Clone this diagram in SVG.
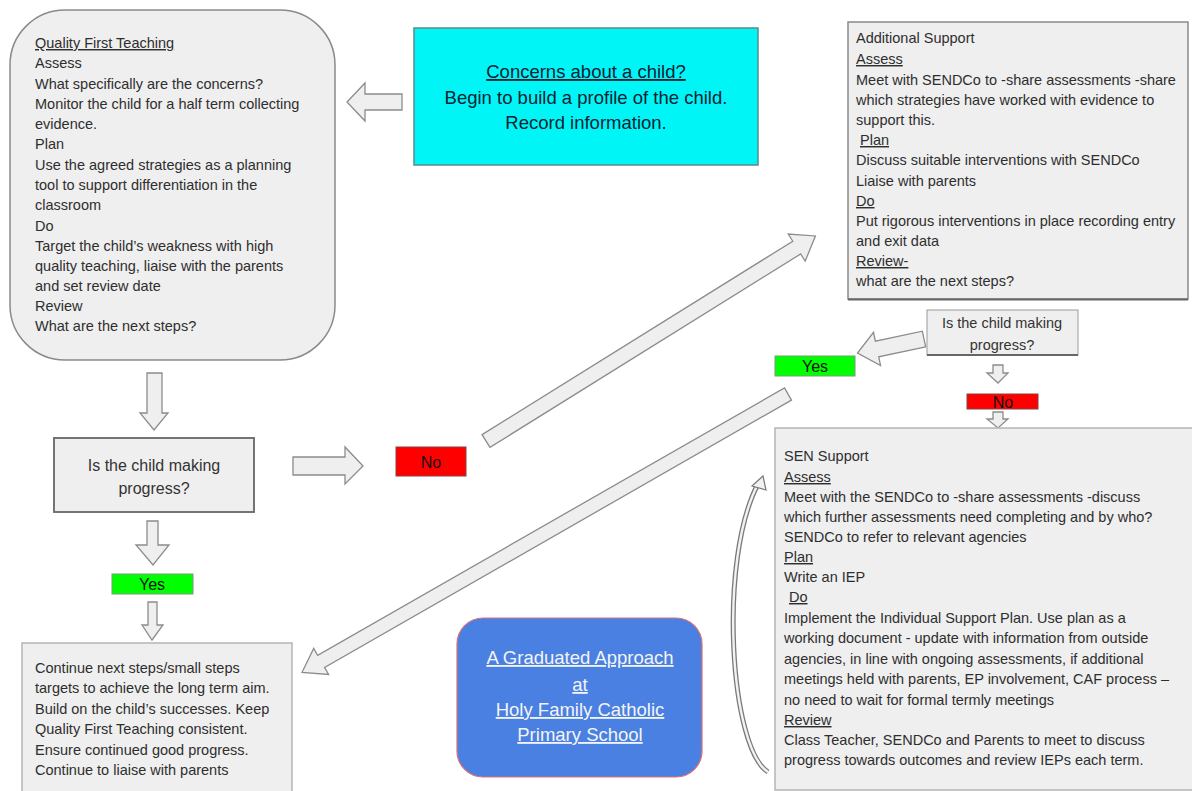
<svg xmlns="http://www.w3.org/2000/svg" width="1192" height="791" viewBox="0 0 1192 791">
<style>
  .box { fill: #efefef; stroke: #8a8a8a; stroke-width: 1.5; }
  .body { font-family: "Liberation Sans", Arial, sans-serif; font-size: 14.5px; fill: #2e2e2e; }
  .ul { text-decoration: underline; }
  .arrow { fill: #efefef; stroke: #8c8c8c; stroke-width: 1.3; stroke-linejoin: miter; }
  .yes { fill: #00ff00; stroke: #7a9a7a; stroke-width: 1; }
  .no { fill: #ff0000; stroke: #8a4040; stroke-width: 1; }
  .lbl { font-family: "Liberation Sans", Arial, sans-serif; font-size: 16px; fill: #111; text-anchor: middle; }
  .q { font-family: "Liberation Sans", Arial, sans-serif; font-size: 16px; fill: #333; text-anchor: middle; }
  .qs { font-size: 14.5px; }
  .big { font-family: "Liberation Sans", Arial, sans-serif; font-size: 18.5px; text-anchor: middle; }
  .cy { fill: #0d2233; }
  .wt { fill: #f4f4f4; }
</style>

<g id="connectors">
  <!-- cyan box to QFT -->
  <polygon class="arrow" points="402,94 365,94 365,83 347,102 365,121 365,110 402,110"/>
  <!-- QFT down to decision -->
  <polygon class="arrow" points="147,373 162,373 162,413 168,413 154,430 140,413 147,413"/>
  <!-- decision right to No -->
  <polygon class="arrow" points="293,457 345,457 345,447 363,466 345,484 345,475 293,475"/>
  <!-- decision down to Yes -->
  <polygon class="arrow" points="147,521 158,521 158,545 169,545 153,565 136,545 147,545"/>
  <!-- Yes down to continue box -->
  <polygon class="arrow" points="148,602 157,602 157,625 163,625 152,640 142,625 148,625"/>
  <!-- No (left) to Additional Support -->
  <polygon class="arrow" transform="translate(486,441) rotate(-31.9)" points="0,-7.5 366,-7.5 366,-16 388,0 366,16 366,7.5 0,7.5"/>
  <!-- Yes (right) to continue box -->
  <polygon class="arrow" transform="translate(788,394) rotate(150.2)" points="0,-7 538,-7 538,-15 560,0 538,15 538,7 0,7"/>
  <!-- right decision to Yes -->
  <polygon class="arrow" transform="translate(924,339) rotate(168)" points="0,-8 48,-8 48,-17 68,0 48,17 48,8 0,8"/>
  <!-- right decision down to No -->
  <polygon class="arrow" points="993,365 1003,365 1003,373 1008,373 998,383 987,373 993,373"/>
  <!-- No down to SEN Support -->
  <polygon class="arrow" points="993,412 1003,412 1003,419 1008,419 998,428 987,419 993,419"/>
  <!-- curved review loop -->
  <path d="M768,772 C730,748 718,560 758,484" fill="none" stroke="#7a7a7a" stroke-width="5"/>
  <path d="M768,772 C730,748 718,560 758,484" fill="none" stroke="#f2f2f2" stroke-width="2.4"/>
  <polygon points="752,486 763,476 766,490" fill="#f2f2f2" stroke="#7a7a7a" stroke-width="1.2"/>
</g>

<g id="qft">
  <rect class="box" x="10" y="10" width="325" height="350" rx="55" ry="55"/>
  <text class="body"><tspan x="35" y="48" class="ul">Quality First Teaching</tspan><tspan x="35" y="68">Assess</tspan><tspan x="35" y="89">What specifically are the concerns?</tspan><tspan x="35" y="109">Monitor the child for a half term collecting</tspan><tspan x="35" y="129">evidence.</tspan><tspan x="35" y="149">Plan</tspan><tspan x="35" y="170">Use the agreed strategies as a planning</tspan><tspan x="35" y="190">tool to support differentiation  in the</tspan><tspan x="35" y="210">classroom</tspan><tspan x="35" y="231">Do</tspan><tspan x="35" y="251">Target the child’s weakness with high</tspan><tspan x="35" y="271">quality teaching, liaise with the parents</tspan><tspan x="35" y="291">and set review date</tspan><tspan x="35" y="311">Review</tspan><tspan x="35" y="331">What are the next steps?</tspan></text>
</g>

<g id="concerns">
  <rect x="414" y="28" width="344" height="137" fill="#00f6f6" stroke="#5a8a8a" stroke-width="1.5"/>
  <text class="big cy ul" x="586" y="78">Concerns about a child?</text>
  <text class="big cy" x="586" y="104">Begin to build a profile of the child.</text>
  <text class="big cy" x="586" y="129">Record information.</text>
</g>

<g id="additional-support">
  <rect class="box" x="848" y="22" width="340" height="277"/>
  <line x1="848" y1="299.5" x2="1188" y2="299.5" stroke="#666" stroke-width="2"/>
  <text class="body"><tspan x="856" y="43">Additional  Support</tspan><tspan x="856" y="64" class="ul">Assess</tspan><tspan x="856" y="85">Meet with SENDCo to  -share assessments -share</tspan><tspan x="856" y="105">which strategies have worked with evidence to</tspan><tspan x="856" y="125">support this.</tspan><tspan x="860" y="145" class="ul">Plan</tspan><tspan x="856" y="165">Discuss suitable interventions with SENDCo</tspan><tspan x="856" y="186">Liaise with parents</tspan><tspan x="856" y="206" class="ul">Do</tspan><tspan x="856" y="226">Put rigorous interventions in place recording entry</tspan><tspan x="856" y="246">and exit data</tspan><tspan x="856" y="266" class="ul">Review-</tspan><tspan x="856" y="286">what are the next steps?</tspan></text>
</g>

<g id="decision-right">
  <rect x="927" y="310" width="151" height="45" fill="#efefef" stroke="#9a9a9a" stroke-width="1"/>
  <line x1="927" y1="355" x2="1078" y2="355" stroke="#666" stroke-width="2"/>
  <text class="q qs"><tspan x="1002" y="328">Is the child making</tspan><tspan x="1002" y="350">progress?</tspan></text>
</g>

<g id="yes-right">
  <rect class="yes" x="775" y="356" width="80" height="20"/>
  <text class="lbl" x="815" y="372">Yes</text>
</g>

<g id="no-right">
  <rect class="no" x="967" y="394" width="71" height="15"/>
  <text class="lbl" x="1003" y="408">No</text>
</g>

<g id="sen-support">
  <rect x="775" y="428" width="418" height="362" fill="#efefef" stroke="#b5b5b5" stroke-width="1.5"/>
  <text class="body"><tspan x="784" y="461">SEN Support</tspan><tspan x="784" y="482" class="ul">Assess</tspan><tspan x="784" y="502">Meet with the SENDCo to  -share assessments -discuss</tspan><tspan x="784" y="522">which further assessments need completing and by who?</tspan><tspan x="784" y="542">SENDCo to refer to relevant agencies</tspan><tspan x="784" y="562" class="ul">Plan</tspan><tspan x="784" y="582">Write an IEP</tspan><tspan x="789" y="602" class="ul">Do</tspan><tspan x="784" y="623">Implement the Individual  Support Plan. Use plan as a</tspan><tspan x="784" y="643">working document - update with information from outside</tspan><tspan x="784" y="664">agencies, in line with ongoing  assessments, if additional</tspan><tspan x="784" y="684">meetings held with parents, EP involvement, CAF process –</tspan><tspan x="784" y="705">no need to wait for formal termly meetings</tspan><tspan x="784" y="725" class="ul">Review</tspan><tspan x="784" y="745">Class Teacher, SENDCo and Parents to meet to discuss</tspan><tspan x="784" y="765">progress towards outcomes and review IEPs  each term.</tspan></text>
</g>

<g id="decision-left">
  <rect x="54" y="438" width="200" height="74" fill="#efefef" stroke="#666" stroke-width="1.8"/>
  <text class="q"><tspan x="154" y="471">Is the child making</tspan><tspan x="154" y="494">progress?</tspan></text>
</g>

<g id="no-left">
  <rect class="no" x="396" y="447" width="70" height="29"/>
  <text class="lbl" x="431" y="468">No</text>
</g>

<g id="yes-left">
  <rect class="yes" x="112" y="574" width="81" height="20"/>
  <text class="lbl" x="152" y="590">Yes</text>
</g>

<g id="continue">
  <rect x="22" y="643" width="270" height="152" fill="#efefef" stroke="#b5b5b5" stroke-width="1.5"/>
  <text class="body"><tspan x="35" y="673">Continue next steps/small steps</tspan><tspan x="35" y="693">targets to achieve the long term aim.</tspan><tspan x="35" y="714">Build on the child’s successes. Keep</tspan><tspan x="35" y="734">Quality First Teaching consistent.</tspan><tspan x="35" y="755">Ensure continued good progress.</tspan><tspan x="35" y="775">Continue to liaise with parents</tspan></text>
</g>

<g id="title">
  <rect x="457" y="618" width="245" height="159" rx="26" ry="26" fill="#4a80e2" stroke="#e07070" stroke-width="1.2"/>
  <text class="big wt ul" x="580" y="664">A Graduated Approach</text>
  <text class="big wt ul" x="580" y="691">at</text>
  <text class="big wt ul" x="580" y="716">Holy Family Catholic</text>
  <text class="big wt ul" x="580" y="741">Primary School</text>
</g>
</svg>
